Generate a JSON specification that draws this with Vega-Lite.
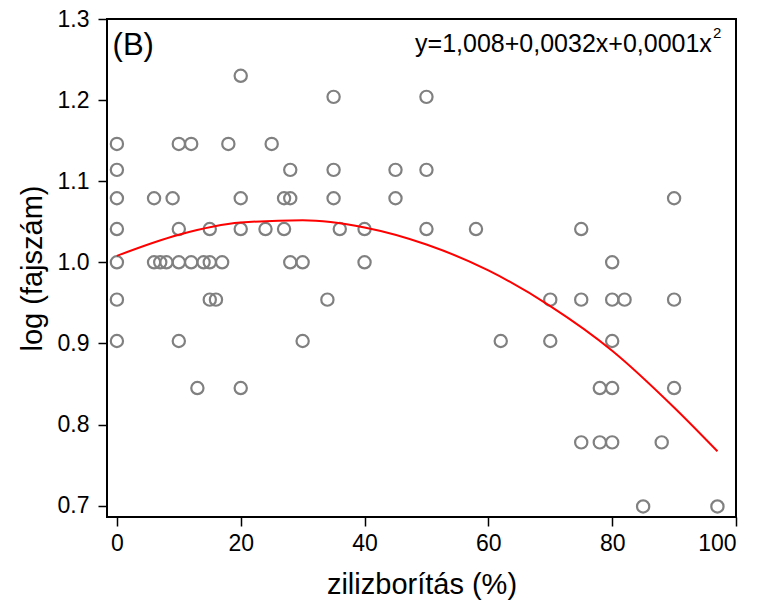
{
  "$schema": "https://vega.github.io/schema/vega-lite/v6.json",
  "width": 629,
  "height": 498,
  "autosize": {"type": "none"},
  "padding": {"left": 107, "top": 19, "right": 27, "bottom": 93},
  "background": "white",
  "config": {
    "font": "Liberation Sans",
    "view": {"stroke": "black", "strokeWidth": 2},
    "axis": {
      "grid": false,
      "domain": false,
      "tickColor": "black",
      "tickWidth": 1.5,
      "tickSize": 9,
      "labelColor": "black",
      "labelFont": "Liberation Sans",
      "labelFontSize": 23,
      "titleFont": "Liberation Sans",
      "titleFontSize": 29,
      "titleFontWeight": "normal",
      "titleColor": "black"
    }
  },
  "datasets": {
    "pts": [
      {"cover": 20, "logS": 1.230},
      {"cover": 35, "logS": 1.204}, {"cover": 50, "logS": 1.204},
      {"cover": 0, "logS": 1.146}, {"cover": 10, "logS": 1.146}, {"cover": 12, "logS": 1.146}, {"cover": 18, "logS": 1.146}, {"cover": 25, "logS": 1.146},
      {"cover": 0, "logS": 1.114}, {"cover": 28, "logS": 1.114}, {"cover": 35, "logS": 1.114}, {"cover": 45, "logS": 1.114}, {"cover": 50, "logS": 1.114},
      {"cover": 0, "logS": 1.079}, {"cover": 6, "logS": 1.079}, {"cover": 9, "logS": 1.079}, {"cover": 20, "logS": 1.079}, {"cover": 27, "logS": 1.079}, {"cover": 28, "logS": 1.079}, {"cover": 35, "logS": 1.079}, {"cover": 45, "logS": 1.079}, {"cover": 90, "logS": 1.079},
      {"cover": 0, "logS": 1.041}, {"cover": 10, "logS": 1.041}, {"cover": 15, "logS": 1.041}, {"cover": 20, "logS": 1.041}, {"cover": 24, "logS": 1.041}, {"cover": 27, "logS": 1.041}, {"cover": 36, "logS": 1.041}, {"cover": 40, "logS": 1.041}, {"cover": 50, "logS": 1.041}, {"cover": 58, "logS": 1.041}, {"cover": 75, "logS": 1.041},
      {"cover": 0, "logS": 1.0}, {"cover": 6, "logS": 1.0}, {"cover": 7, "logS": 1.0}, {"cover": 8, "logS": 1.0}, {"cover": 10, "logS": 1.0}, {"cover": 12, "logS": 1.0}, {"cover": 14, "logS": 1.0}, {"cover": 15, "logS": 1.0}, {"cover": 17, "logS": 1.0}, {"cover": 28, "logS": 1.0}, {"cover": 30, "logS": 1.0}, {"cover": 40, "logS": 1.0}, {"cover": 80, "logS": 1.0},
      {"cover": 0, "logS": 0.954}, {"cover": 15, "logS": 0.954}, {"cover": 16, "logS": 0.954}, {"cover": 34, "logS": 0.954}, {"cover": 70, "logS": 0.954}, {"cover": 75, "logS": 0.954}, {"cover": 80, "logS": 0.954}, {"cover": 82, "logS": 0.954}, {"cover": 90, "logS": 0.954},
      {"cover": 0, "logS": 0.903}, {"cover": 10, "logS": 0.903}, {"cover": 30, "logS": 0.903}, {"cover": 62, "logS": 0.903}, {"cover": 70, "logS": 0.903}, {"cover": 80, "logS": 0.903},
      {"cover": 13, "logS": 0.845}, {"cover": 20, "logS": 0.845}, {"cover": 78, "logS": 0.845}, {"cover": 80, "logS": 0.845}, {"cover": 90, "logS": 0.845},
      {"cover": 75, "logS": 0.778}, {"cover": 78, "logS": 0.778}, {"cover": 80, "logS": 0.778}, {"cover": 88, "logS": 0.778},
      {"cover": 85, "logS": 0.699}, {"cover": 97, "logS": 0.699}
    ],
    "fit": [
      {"cover": 0, "logS": 1.008},
      {"cover": 10, "logS": 1.034},
      {"cover": 20, "logS": 1.049},
      {"cover": 30, "logS": 1.052},
      {"cover": 40, "logS": 1.043},
      {"cover": 50, "logS": 1.022},
      {"cover": 60, "logS": 0.990},
      {"cover": 70, "logS": 0.946},
      {"cover": 80, "logS": 0.891},
      {"cover": 90, "logS": 0.821},
      {"cover": 97, "logS": 0.767}
    ]
  },
  "layer": [
    {
      "data": {"name": "pts"},
      "mark": {"type": "point", "shape": "circle", "filled": false, "color": "#808080", "strokeWidth": 2.2, "size": 150, "opacity": 1},
      "encoding": {
        "x": {
          "field": "cover", "type": "quantitative",
          "scale": {"domain": [-1.6, 100], "nice": false, "zero": false},
          "axis": {"values": [0, 20, 40, 60, 80, 100], "title": "zilizborítás (%)", "labelPadding": 6, "titlePadding": 15}
        },
        "y": {
          "field": "logS", "type": "quantitative",
          "scale": {"domain": [0.686, 1.3], "nice": false, "zero": false},
          "axis": {"values": [0.7, 0.8, 0.9, 1.0, 1.1, 1.2, 1.3], "format": ".1f", "title": "log (fajszám)", "labelPadding": 9, "titlePadding": 10}
        }
      }
    },
    {
      "data": {"name": "fit"},
      "mark": {"type": "line", "color": "#ff0000", "strokeWidth": 2, "interpolate": "monotone"},
      "encoding": {
        "x": {"field": "cover", "type": "quantitative"},
        "y": {"field": "logS", "type": "quantitative"}
      }
    },
    {
      "data": {"values": [{"t": "(B)"}]},
      "mark": {"type": "text", "align": "left", "baseline": "alphabetic", "fontSize": 31, "color": "black"},
      "encoding": {
        "x": {"datum": -0.7, "type": "quantitative"},
        "y": {"datum": 1.256, "type": "quantitative"},
        "text": {"field": "t"}
      }
    },
    {
      "data": {"values": [{"t": "y=1,008+0,0032x+0,0001x"}]},
      "mark": {"type": "text", "align": "right", "baseline": "alphabetic", "fontSize": 25, "color": "black"},
      "encoding": {
        "x": {"datum": 96.1, "type": "quantitative"},
        "y": {"datum": 1.259, "type": "quantitative"},
        "text": {"field": "t"}
      }
    },
    {
      "data": {"values": [{"t": "2"}]},
      "mark": {"type": "text", "align": "left", "baseline": "alphabetic", "fontSize": 15, "color": "black"},
      "encoding": {
        "x": {"datum": 96.3, "type": "quantitative"},
        "y": {"datum": 1.277, "type": "quantitative"},
        "text": {"field": "t"}
      }
    }
  ]
}
